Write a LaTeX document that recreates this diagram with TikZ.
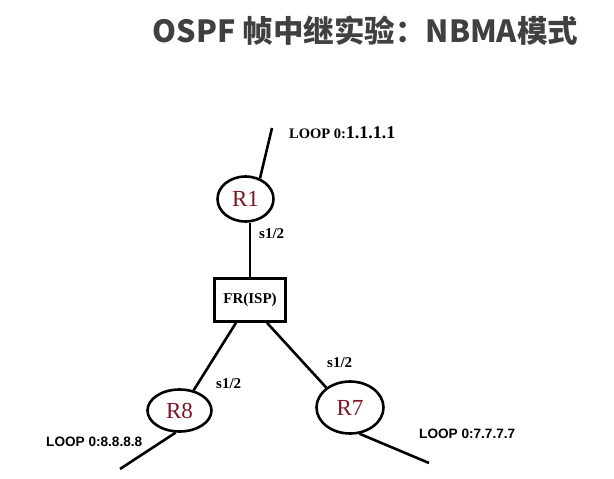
\documentclass[tikz,border=0pt]{standalone}
\usepackage{fontspec}
\setmainfont{Liberation Serif}
\setsansfont{Liberation Sans}
\newfontfamily\cjk{Noto Sans CJK SC}
\usepackage{xcolor}
\usetikzlibrary{shapes.geometric}
\definecolor{routerred}{HTML}{7D1424}
\definecolor{titlegray}{HTML}{404040}

\begin{document}
\begin{tikzpicture}[
                x=1pt, y=-1pt,
                router/.style={draw, ellipse, line width=2.6pt, inner sep=0pt, text=routerred, font=\fontsize{23}{25}\selectfont},
                cloud/.style={draw, rectangle, line width=2.6pt, inner sep=0pt, minimum width=71pt, minimum height=43pt, font=\bfseries\fontsize{15}{17}\selectfont},
                link/.style={line width=2.6pt},
                port/.style={anchor=west, inner sep=0pt, font=\bfseries\fontsize{15}{17}\selectfont},
                loopsf/.style={anchor=west, inner sep=0pt, font=\sffamily\bfseries\fontsize{13.6}{15}\selectfont}
            ]
            \useasboundingbox (0,0) rectangle (614,479);
            % title
            \node[text=titlegray, font=\cjk\bfseries\fontsize{30.5}{33}\selectfont] (title) at (365.5,31) {OSPF 帧中继实验：NBMA模式};
            % routers and frame relay switch
            \node[router, minimum width=56pt, minimum height=45pt] (r1) at (245.5,199) {R1};
            \node[cloud] (fr) at (250,300) {FR(ISP)};
            \node[router, minimum width=64pt, minimum height=42pt] (r8) at (179.5,410.5) {R8};
            \node[router, minimum width=67pt, minimum height=52pt] (r7) at (350,407.5) {R7};
            % loopback ends
            \coordinate (lo1) at (272,128);
            \coordinate (lo8) at (120,469);
            \coordinate (lo7) at (429,463);
            % links
            \draw[link] (r1.55) -- (lo1);
            \draw[link] (fr.north) -- (fr.north |- r1.south);
            \draw[link] ([xshift=-14pt]fr.south) -- (r8.55);
            \draw[link] ([xshift=17pt]fr.south) -- (r7.140);
            \draw[link] (r8.260) -- (lo8);
            \draw[link] (r7.290) -- (lo7);
            % labels
            \node[port, font=\bfseries\fontsize{14.5}{17}\selectfont] (p1) at (289,133) {LOOP 0:{\fontsize{18}{20}\selectfont 1.1.1.1}};
            \node[port] (s1) at (259,234) {s1/2};
            \node[port] (s8) at (216,384) {s1/2};
            \node[port] (s7) at (327,363) {s1/2};
            \node[loopsf] (p8) at (46,442) {LOOP 0:8.8.8.8};
            \node[loopsf] (p7) at (419,434) {LOOP 0:7.7.7.7};
\end{tikzpicture}
\end{document}
